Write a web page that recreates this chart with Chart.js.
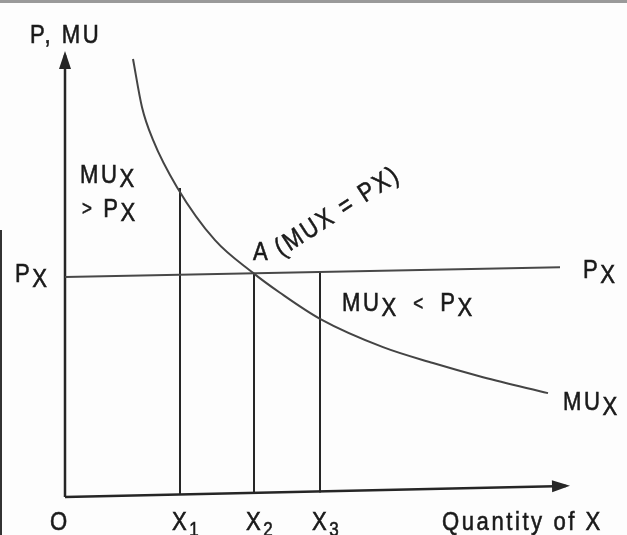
<!DOCTYPE html>
<html>
<head>
<title>Marginal utility and price</title>
<script src="https://cdn.jsdelivr.net/npm/chart.js@4.4.1/dist/chart.umd.min.js"></script>
<style>
  body { margin: 0; background: #fdfdfd; }
  #wrap { position: relative; width: 627px; height: 535px; }
  #topEdge { position: absolute; left: 0; top: 0; width: 627px; height: 3px; background: #9a9a9a; }
  #leftEdge { position: absolute; left: 0; top: 230px; width: 2px; height: 305px; background: #333; }
</style>
</head>
<body>
<div id="wrap">
  <canvas id="muChart"></canvas>
  <div id="topEdge"></div>
  <div id="leftEdge"></div>
</div>
<script>
// MUx curve
var CURVE_X = [1.36, 1.54, 1.76, 2.24, 3.0, 3.76, 4.3, 5.1, 6.36, 7.36, 8.36, 9.66];
var CURVE_Y = [9.91, 8.82, 8.08, 7.01, 5.81, 5.07, 4.62, 4.03, 3.39, 3.03, 2.71, 2.35];

// Px line (the photo is a little tilted)
var PRICE_X = [0, 9.9];
var PRICE_Y = [4.98, 5.2];

// quantities X1, X2, X3 and where their verticals stop
var QTY_NAMES = ['1', '2', '3'];
var QTY_X = [2.3, 3.78, 5.1];
var QTY_TOP = [6.99, 5.07, 5.09];
var QTY_BASE = [0.05, 0.07, 0.1];

// axes
var XAXIS_X = [0, 10.02];
var XAXIS_Y = [0, 0.25];
var YAXIS_X = [0, 0];
var YAXIS_Y = [0, 10];

function pts(xs, ys) {
  var out = [];
  for (var i = 0; i < xs.length; i++) out.push({x: xs[i], y: ys[i]});
  return out;
}

var INK = '#262626';
var datasets = [
  {data: pts(CURVE_X, CURVE_Y), borderColor: '#444', borderWidth: 2, cubicInterpolationMode: 'monotone'},
  {data: pts(PRICE_X, PRICE_Y), borderColor: '#484848', borderWidth: 2},
  {data: pts(XAXIS_X, XAXIS_Y), borderColor: INK, borderWidth: 2.5, arrow: true},
  {data: pts(YAXIS_X, YAXIS_Y), borderColor: INK, borderWidth: 2.5, arrow: true}
];
for (var i = 0; i < QTY_X.length; i++) {
  datasets.push({data: pts([QTY_X[i], QTY_X[i]], [QTY_BASE[i], QTY_TOP[i]]), borderColor: INK, borderWidth: 2});
}
datasets.forEach(function (d) { d.showLine = true; d.pointRadius = 0; d.clip = false; });

// text notes: parts are [text, drop in px, size]
var notes = [
  {x: -0.7, y: 10.27, parts: [['P, MU', 0]]},
  {x: 0.3, y: 7.1, parts: [['MU', 0], ['X', 4]]},
  {x: 0.34, y: 6.33, parts: [['>', -2, 20], [' P', 0], ['X', 4]]},
  {x: -1.0, y: 4.86, parts: [['P', 0], ['X', 5]]},
  {x: 10.36, y: 4.95, parts: [['P', 0], ['X', 5]]},
  {x: 5.54, y: 4.2, parts: [['MU', 0], ['X', 5], ['  <  ', -1, 20], ['P', 0], ['X', 5]]},
  {x: 9.96, y: 1.97, parts: [['MU', 0], ['X', 5]]},
  {x: 3.76, y: 5.36, parts: [['A', 0]]},
  {x: 4.33, y: 5.43, parts: [['(MUX = PX)', 0]], angle: -33},
  {x: -0.3, y: -0.75, parts: [['O', 0]]},
  {x: 7.54, y: -0.75, parts: [['Quantity of X', 0]]}
];
for (var k = 0; k < QTY_X.length; k++) {
  notes.push({x: QTY_X[k] - 0.16, y: -0.75, parts: [['X', 0], [QTY_NAMES[k], 6, 20]]});
}

var notePlugin = {
  id: 'notes',
  afterDatasetsDraw: function (chart) {
    var ctx = chart.ctx, sx = chart.scales.x, sy = chart.scales.y;
    // arrow heads
    chart.data.datasets.forEach(function (d) {
      if (!d.arrow) return;
      var a = d.data[d.data.length - 2], b = d.data[d.data.length - 1];
      var ax = sx.getPixelForValue(a.x), ay = sy.getPixelForValue(a.y);
      var bx = sx.getPixelForValue(b.x), by = sy.getPixelForValue(b.y);
      var ang = Math.atan2(by - ay, bx - ax);
      ctx.save();
      ctx.translate(bx, by);
      ctx.rotate(ang);
      ctx.fillStyle = INK;
      ctx.beginPath();
      ctx.moveTo(4, 0);
      ctx.lineTo(-14, -6);
      ctx.lineTo(-14, 6);
      ctx.closePath();
      ctx.fill();
      ctx.restore();
    });
    // labels
    notes.forEach(function (n) {
      ctx.save();
      ctx.translate(sx.getPixelForValue(n.x), sy.getPixelForValue(n.y));
      if (n.angle) ctx.rotate(n.angle * Math.PI / 180);
      ctx.scale(0.85, 1);
      ctx.fillStyle = '#1a1a1a';
      ctx.strokeStyle = '#1a1a1a';
      ctx.lineWidth = 0.6;
      ctx.textBaseline = 'alphabetic';
      ctx.letterSpacing = '3px';
      var cx = 0;
      n.parts.forEach(function (p) {
        ctx.font = (p[2] || 26) + 'px "Liberation Sans", Arial, sans-serif';
        ctx.fillText(p[0], cx, p[1]);
        ctx.strokeText(p[0], cx, p[1]);
        cx += ctx.measureText(p[0]).width;
      });
      ctx.restore();
    });
  }
};

var ctxL = document.getElementById('muChart').getContext('2d');
var muChart = new Chart(ctxL, {
  type: 'scatter',
  data: {datasets: datasets},
  options: {
    responsive: true,
    maintainAspectRatio: false,
    animation: false,
    layout: {padding: {left: 65, right: 62, top: 55, bottom: 38}},
    plugins: {legend: {display: false}, tooltip: {enabled: false}},
    scales: {
      x: {type: 'linear', min: 0, max: 10, display: false},
      y: {type: 'linear', min: 0, max: 10, display: false}
    }
  },
  plugins: [notePlugin]
});
</script>
</body>
</html>
